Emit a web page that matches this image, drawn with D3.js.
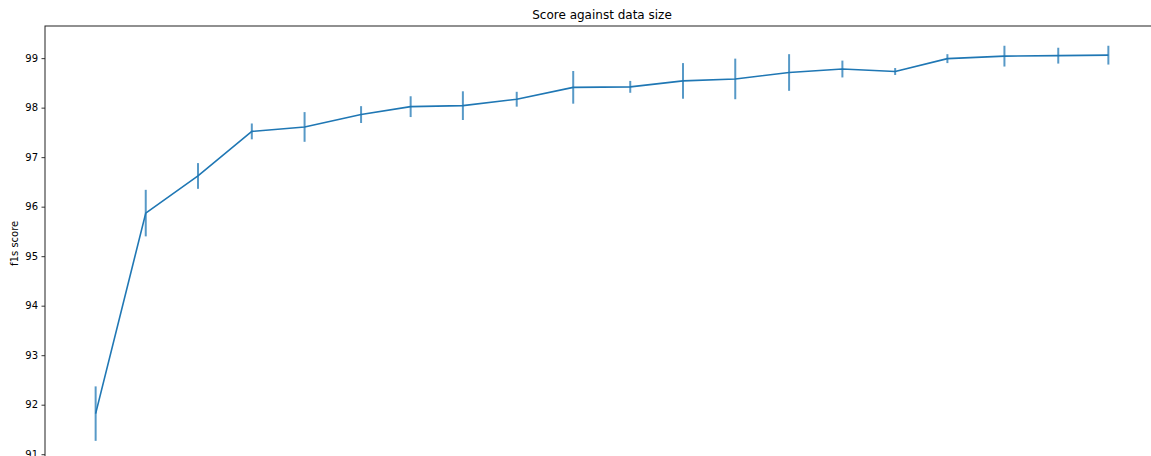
<!DOCTYPE html>
<html>
<head>
<meta charset="utf-8">
<script src="https://cdn.jsdelivr.net/npm/d3@7"></script>
<style>
  html, body { margin: 0; padding: 0; background: #fff; }
  svg { display: block; font-family: "DejaVu Sans", sans-serif; }
</style>
</head>
<body>
<div id="chart"></div>
<script>
// data size (x axis labels are cut off)
const sizes = [1.00, 1.94, 2.92, 3.93, 4.92, 5.98, 6.91, 7.89, 8.90, 9.96,
               11.03, 12.02, 13.00, 14.01, 15.01, 16.00, 16.98, 18.05, 19.06, 20.00];
// mean f1s score
const scores = [91.82, 95.87, 96.62, 97.52, 97.61, 97.86, 98.02, 98.04, 98.17, 98.41,
                98.42, 98.54, 98.58, 98.71, 98.78, 98.73, 98.99, 99.04, 99.05, 99.06];
// error (half height of each bar)
const errors = [0.55, 0.47, 0.26, 0.16, 0.30, 0.17, 0.21, 0.29, 0.15, 0.33,
                0.12, 0.36, 0.41, 0.37, 0.17, 0.07, 0.09, 0.21, 0.16, 0.19];
const yTicks = [91, 92, 93, 94, 95, 96, 97, 98, 99];

const width = 1151;
const height = 456;
const margin = { top: 26, left: 45 };
const plotW = 1114;   // axes run past the right edge of the picture
const plotH = 434.6;  // and past the bottom edge

const data = sizes.map((s, i) => ({ x: s, y: scores[i], e: errors[i] }));

// matplotlib style 5% margins
const xMin = d3.min(sizes), xMax = d3.max(sizes);
const xPad = (xMax - xMin) * 0.05;
const yLo = d3.min(data, d => d.y - d.e), yHi = d3.max(data, d => d.y + d.e);
const yPad = (yHi - yLo) * 0.05;

const x = d3.scaleLinear()
  .domain([xMin - xPad, xMax + xPad])
  .range([margin.left, margin.left + plotW]);

const y = d3.scaleLinear()
  .domain([yLo - yPad, yHi + yPad])
  .range([margin.top + plotH, margin.top]);

const svg = d3.select("#chart").append("svg")
  .attr("width", width)
  .attr("height", height);

// title
svg.append("text")
  .attr("x", margin.left + plotW / 2)
  .attr("y", 19)
  .attr("text-anchor", "middle")
  .attr("font-size", 12)
  .attr("fill", "#000")
  .text("Score against data size");

// y axis
const yAxis = svg.append("g")
  .attr("transform", `translate(${margin.left},0)`)
  .call(d3.axisLeft(y).tickValues(yTicks).tickFormat(d3.format("d")).tickSize(3.5).tickPadding(3.5));
yAxis.select(".domain").remove();
yAxis.selectAll(".tick line").attr("stroke", "#000").attr("stroke-width", 0.8);
yAxis.selectAll(".tick text")
  .attr("font-size", 10)
  .attr("font-family", "DejaVu Sans, sans-serif")
  .attr("fill", "#000");

// y label
svg.append("text")
  .attr("transform", `translate(18,${margin.top + plotH / 2}) rotate(-90)`)
  .attr("text-anchor", "middle")
  .attr("font-size", 10)
  .attr("fill", "#000")
  .text("f1s score");

// spines
svg.append("rect")
  .attr("x", margin.left)
  .attr("y", margin.top)
  .attr("width", plotW)
  .attr("height", plotH)
  .attr("fill", "none")
  .attr("stroke", "#222")
  .attr("stroke-width", 1);

// error bars
svg.append("g")
  .selectAll("line")
  .data(data)
  .join("line")
  .attr("x1", d => x(d.x))
  .attr("x2", d => x(d.x))
  .attr("y1", d => y(d.y - d.e))
  .attr("y2", d => y(d.y + d.e))
  .attr("stroke", "#1f77b4")
  .attr("stroke-opacity", 0.75)
  .attr("stroke-width", 2);

// mean line
svg.append("path")
  .datum(data)
  .attr("fill", "none")
  .attr("stroke", "#1f77b4")
  .attr("stroke-width", 1.6)
  .attr("stroke-linejoin", "round")
  .attr("d", d3.line().x(d => x(d.x)).y(d => y(d.y)));
</script>
</body>
</html>
